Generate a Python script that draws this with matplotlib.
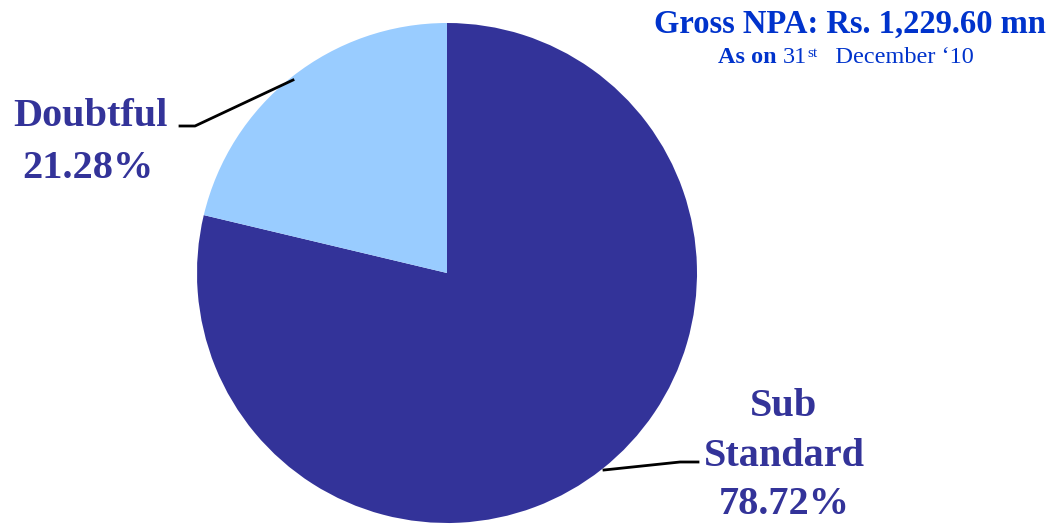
import matplotlib
matplotlib.use("Agg")
import matplotlib.pyplot as plt

# data
categories = ["Sub\nStandard", "Doubtful"]
shares = [78.72, 21.28]
colors = ["#333399", "#99CCFF"]
title = "Gross NPA: Rs. 1,229.60 mn"

W, H = 1053, 525
fig = plt.figure(figsize=(W / 100, H / 100), dpi=100)
ax = fig.add_axes([0, 0, 1, 1])

# pie in pixel coordinates (y flipped)
cx, cy, r = 447, H - 273, 250
ax.pie(shares, colors=colors, startangle=90, counterclock=False,
       center=(cx, cy), radius=r, wedgeprops=dict(linewidth=0))
ax.set_xlim(0, W)
ax.set_ylim(0, H)
ax.set_aspect("equal")
ax.axis("off")

font = "Liberation Serif"
lab_col = "#333399"
fs = 29

# labels with leader lines
ax.plot([293, 195, 180], [H - 80, H - 126, H - 126], color="black", lw=2)
ax.text(90, H - 117, categories[1], ha="center", va="center", fontsize=fs,
        fontweight="bold", color=lab_col, family=font)
ax.text(88, H - 168, f"{shares[1]:.2f}%", ha="center", va="center", fontsize=fs,
        fontweight="bold", color=lab_col, family=font)

ax.plot([604, 680, 698], [H - 470, H - 462, H - 462], color="black", lw=2)
for i, line in enumerate(categories[0].split("\n") + [f"{shares[0]:.2f}%"]):
    ax.text(784, H - 407 - 49 * i, line, ha="center", va="center", fontsize=fs,
            fontweight="bold", color=lab_col, family=font)

# title
tcol = "#0033CC"
ax.text(850, H - 24, title, ha="center", va="center", fontsize=23.5,
        fontweight="bold", color=tcol, family=font)

# subtitle built piecewise: bold / regular / superscript
fig.canvas.draw()
renderer = fig.canvas.get_renderer()
pieces = [("As on ", "bold", 17.5, 0), ("31", "normal", 17.5, 0),
          ("st", "normal", 11, 6), ("   December \u201810", "normal", 17.5, 0)]
x = 718
for txt, wt, size, dy in pieces:
    t = ax.text(x, H - 63 + dy, txt, ha="left", va="baseline", fontsize=size,
                fontweight=wt, color=tcol, family=font)
    bb = t.get_window_extent(renderer)
    x += bb.width

fig.savefig("out.png", dpi=100)
